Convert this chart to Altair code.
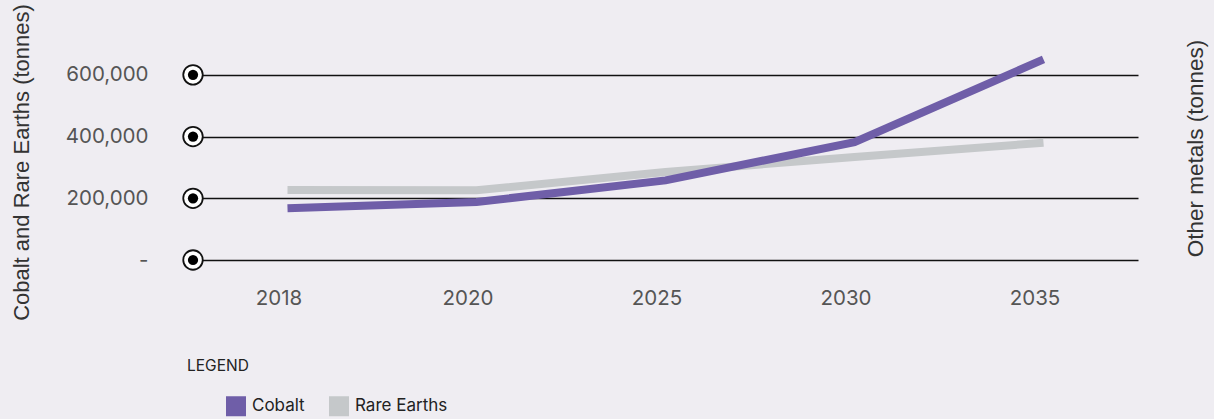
import altair as alt
import pandas as pd

years = ["2018", "2020", "2025", "2030", "2035"]
cobalt = [168000, 188000, 258000, 382000, 650000]
rare_earths = [227000, 226000, 285000, 334000, 380000]
series_names = ["Cobalt", "Rare Earths"]
series_colors = ["#6f5ea8", "#c5c8ca"]
tick_values = [0, 200000, 400000, 600000]

df = pd.DataFrame(
    [{"year": y, "value": v, "series": "Cobalt"} for y, v in zip(years, cobalt)]
    + [{"year": y, "value": v, "series": "Rare Earths"} for y, v in zip(years, rare_earths)]
)
ticks_df = pd.DataFrame({"v": tick_values})

W, H = 945, 216
ydom = [0, 700000]

xenc = alt.X(
    "year:O",
    sort=years,
    scale=alt.Scale(type="point", padding=0.5),
    axis=alt.Axis(
        title=None, labelAngle=0, ticks=False, domain=False, labelPadding=28, labelOffset=-9,
        labelFontSize=20.5, labelColor="#555555", labelFont="Inter", grid=False,
    ),
)

color = alt.Color(
    "series:N",
    scale=alt.Scale(domain=series_names, range=series_colors),
    legend=alt.Legend(
        title=None, orient="none", direction="horizontal", legendX=33, legendY=352,
        symbolType="square", symbolSize=1, symbolStrokeWidth=19, symbolOpacity=1,
        labelFontSize=17, labelColor="#222222", labelFont="Inter",
        columnPadding=-5, labelOffset=6,
    ),
)

yleft = alt.Y(
    "value:Q",
    scale=alt.Scale(domain=ydom, nice=False),
    axis=alt.Axis(
        title="Cobalt and Rare Earths (tonnes)", values=tick_values, ticks=False, domain=False,
        grid=True, gridColor="#111111", gridWidth=1.6, gridOpacity=1,
        labelPadding=45, labelFontSize=20.5, labelColor="#555555", labelFont="Inter",
        labelExpr="datum.value == 0 ? '-' : format(datum.value, ',')",
        titleFontSize=22, titleFont="Liberation Sans", titleFontWeight="normal", titleColor="#333333",
        titleX=-172, titleY=118, titleAlign="center", titleBaseline="middle", titleAngle=270,
    ),
)

base = alt.Chart(df)
rare = base.transform_filter("datum.series == 'Rare Earths'").mark_line(strokeWidth=8, strokeJoin="miter").encode(
    x=xenc, y=yleft, color=color
)
cob = base.transform_filter("datum.series == 'Cobalt'").mark_line(strokeWidth=8, strokeJoin="miter").encode(
    x=xenc, y=alt.Y("value:Q", scale=alt.Scale(domain=ydom, nice=False)), color=color
)
left_layer = alt.layer(rare, cob)

yright = alt.Y(
    "v:Q",
    scale=alt.Scale(domain=ydom, nice=False),
    axis=alt.Axis(
        orient="right", title="Other metals (tonnes)", labels=False, ticks=False, domain=False, grid=False,
        titleFontSize=22.5, titleFont="Liberation Sans", titleFontWeight="normal", titleColor="#333333",
        titleX=57, titleY=104, titleAlign="center", titleBaseline="middle", titleAngle=270,
    ),
)
rings = alt.Chart(ticks_df).mark_point(
    shape="circle", filled=True, fill="white", stroke="#111111", strokeWidth=1.8, size=380, opacity=1
).encode(x=alt.value(0), y=yright)
dots = alt.Chart(ticks_df).mark_point(
    shape="circle", filled=True, fill="#000000", strokeWidth=0, size=105, opacity=1
).encode(x=alt.value(0), y=alt.Y("v:Q", scale=alt.Scale(domain=ydom, nice=False)))
right_layer = alt.layer(rings, dots)

legend_title = alt.Chart(pd.DataFrame({"t": ["LEGEND"]})).mark_text(
    align="left", baseline="middle", fontSize=15.5, font="Inter", color="#222222"
).encode(x=alt.value(-6), y=alt.value(322), text="t:N")

chart = alt.layer(left_layer, right_layer, legend_title).resolve_scale(y="independent").properties(
    width=W, height=H,
    autosize=alt.AutoSizeParams(type="none"),
    padding={"left": 193, "top": 44, "right": 76, "bottom": 159},
    background="#efedf2",
).configure_view(stroke=None).configure_legend(symbolStrokeWidth=19)

chart.save("out.html", embed_options={"renderer": "svg", "actions": False})
